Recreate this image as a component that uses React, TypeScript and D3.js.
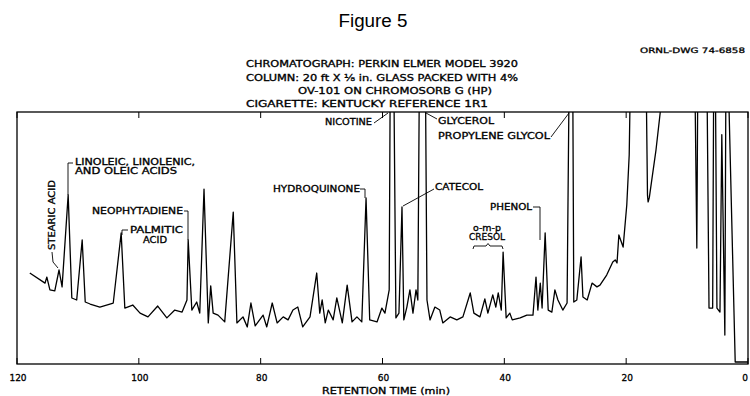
import React from 'react';
import * as d3 from 'd3';

// Retention time (min) and detector response (% of full scale, >100 runs off the chart)
const retentionTimes = [
  117.9, 115.4, 115.1, 114.6, 113.8, 113.1, 112.6, 111.6, 111.0, 110.2,
  109.3, 108.8, 108.0, 106.4, 104.2, 102.9, 102.3, 101.0, 99.8, 98.5,
  96.9, 95.4, 94.1, 92.9, 92.1, 91.9, 91.3, 90.5, 90.0, 89.3,
  88.6, 88.2, 87.8, 87.0, 85.9, 84.5, 83.9, 82.9, 82.2, 81.6,
  80.9, 79.6, 79.0, 78.1, 77.3, 76.3, 75.5, 74.7, 73.9, 73.1,
  71.9, 70.8, 70.3, 69.9, 69.4, 68.9, 68.1, 67.5, 66.6, 65.8,
  65.0, 64.2, 63.4, 62.7, 62.1, 60.9, 60.1, 59.6, 58.9, 58.7,
  58.2, 57.8, 57.3, 56.8, 56.5, 56.0, 55.5, 55.0, 54.5, 54.2,
  53.9, 53.0, 52.7, 52.2, 51.4, 50.6, 50.1, 48.9, 47.8, 46.8,
  45.6, 45.0, 44.0, 43.2, 42.7, 41.9, 41.4, 41.0, 40.5, 40.2,
  39.7, 39.1, 38.7, 37.4, 36.3, 35.3, 34.8, 34.5, 34.1, 33.8,
  33.3, 32.8, 32.2, 31.7, 31.2, 30.4, 29.7, 29.3, 28.8, 28.6,
  28.1, 27.4, 27.1, 26.4, 25.6, 24.8, 24.3, 23.2, 22.2, 21.8,
  21.5, 21.2, 20.5, 19.9, 19.5, 19.2, 16.8, 16.5, 16.4, 16.2,
  15.8, 15.1, 14.4, 14.0, 8.8, 8.4, 8.2, 6.8, 6.4, 5.8,
  5.6, 5.4, 5.1, 4.6, 4.3, 3.8, 3.6, 3.1, 2.1, 0.0,
];
const responses = [
  36.1, 32.1, 34.5, 29.4, 29.0, 37.3, 30.6, 67.1, 26.2, 25.4,
  49.2, 24.6, 23.8, 22.6, 24.2, 52.0, 22.2, 23.4, 20.2, 18.7,
  23.0, 18.3, 21.4, 20.6, 25.4, 49.2, 21.4, 24.6, 20.2, 69.4,
  16.3, 31.0, 20.2, 19.4, 16.7, 60.3, 16.3, 18.7, 14.7, 24.2,
  15.1, 19.4, 14.7, 24.2, 16.3, 18.7, 17.5, 21.4, 22.6, 14.7,
  18.7, 36.1, 20.2, 25.4, 16.3, 21.4, 17.5, 26.2, 16.3, 31.3,
  16.7, 18.7, 16.7, 65.9, 17.5, 16.7, 22.2, 20.2, 29.4, 130,
  130, 18.3, 20.2, 62.3, 17.5, 22.6, 29.4, 20.2, 29.4, 25.4,
  130, 130, 25.4, 17.5, 22.6, 21.4, 16.3, 18.7, 17.5, 18.7,
  28.2, 20.2, 18.7, 25.8, 20.2, 27.4, 22.6, 28.2, 21.4, 44.4,
  18.3, 20.2, 17.5, 18.3, 19.4, 19.4, 34.5, 21.4, 32.1, 22.2,
  52.0, 21.4, 20.6, 29.4, 25.4, 21.4, 24.2, 130, 130, 24.6,
  25.4, 42.5, 26.6, 25.4, 32.1, 30.6, 31.3, 35.3, 40.5, 41.3,
  40.1, 51.2, 46.4, 63.1, 83.0, 130, 130, 67.0, 64.3, 66.0,
  73.0, 85.0, 100, 130, 130, 46.0, 130, 130, 22.2, 22.2,
  130, 130, 22.2, 20.6, 91.0, 11.5, 130, 100, 0.8, 0.8,
];
const tickValues = [120, 100, 80, 60, 40, 20, 0];

const headerLines = [
  'CHROMATOGRAPH: PERKIN ELMER MODEL 3920',
  'COLUMN: 20 ft X \u215B in. GLASS PACKED WITH 4%',
  'OV-101 ON CHROMOSORB G (HP)',
  'CIGARETTE: KENTUCKY REFERENCE 1R1',
];

const W = 750;
const H = 396;
const plot = { left: 17, right: 748, top: 112, bottom: 364 };
const LETTER = "'DejaVu Sans', 'Liberation Sans', sans-serif";

const App: React.FC = () => {
  const x = d3.scaleLinear().domain([120, 0]).range([plot.left, plot.right]);
  const y = d3.scaleLinear().domain([0, 100]).range([plot.bottom, plot.top]);

  const points = retentionTimes.map((t, i) => [t, responses[i]] as [number, number]);
  const trace = d3.line<[number, number]>()
    .x(d => x(d[0]))
    .y(d => y(d[1]))(points) ?? '';

  // stencil-like lettering: fixed width, slightly thickened
  const lbl = (s: string, px: number, py: number, len: number, opts: any = {}) => (
    <text x={px} y={py} textLength={len} lengthAdjust="spacingAndGlyphs"
      fontFamily={LETTER} fontSize={opts.size ?? 8.5} textAnchor={opts.anchor ?? 'start'}
      stroke="#000" strokeWidth={0.3} transform={opts.transform}>{s}</text>
  );

  return (
    <svg width={W} height={H} style={{ position: 'absolute', left: 0, top: 0, background: '#fff' }}>
      <defs>
        <clipPath id="plotClip">
          <rect x={plot.left} y={plot.top} width={plot.right - plot.left} height={plot.bottom - plot.top} />
        </clipPath>
      </defs>
      <rect width={W} height={H} fill="#fff" />

      <text x={373} y={27} textAnchor="middle" fontFamily="'Liberation Sans Narrow', 'Liberation Sans', Arial, sans-serif"
        fontSize={18} textLength={69} lengthAdjust="spacingAndGlyphs">Figure 5</text>

      {lbl('ORNL-DWG 74-6858', 640, 53, 105, { size: 7.5 })}

      {lbl(headerLines[0], 246, 67, 272)}
      {lbl(headerLines[1], 246, 81, 272)}
      {lbl(headerLines[2], 298, 94, 194)}
      {lbl(headerLines[3], 246, 107, 242)}

      {/* frame */}
      <rect x={plot.left} y={plot.top} width={plot.right - plot.left} height={plot.bottom - plot.top}
        fill="none" stroke="#000" strokeWidth={1.3} />

      {tickValues.map(t => (
        <g key={t}>
          <line x1={x(t)} x2={x(t)} y1={plot.bottom} y2={plot.bottom - 6} stroke="#000" strokeWidth={1} />
          <line x1={x(t)} x2={x(t)} y1={plot.top} y2={plot.top + 6} stroke="#000" strokeWidth={1} />
          <text x={t === 0 ? x(t) - 3 : x(t) + 1} y={381} textAnchor="middle" fontFamily={LETTER} fontSize={9}
            stroke="#000" strokeWidth={0.3}>{t}</text>
        </g>
      ))}
      {lbl('RETENTION TIME (min)', 386, 394, 128, { anchor: 'middle' })}

      <path d={trace} fill="none" stroke="#000" strokeWidth={1.3} strokeLinejoin="round" clipPath="url(#plotClip)" />

      {/* peak label leaders */}
      <g stroke="#000" strokeWidth={0.9} fill="none">
        <polyline points="52,252 53,262 58,268" />
        <polyline points="73,163 68,163 68,195" />
        <polyline points="184,211 188,211 188,240" />
        <polyline points="128,230 122,230 122,235" />
        <polyline points="360,189 365,189 365,198" />
        <line x1={374} y1={123} x2={388} y2={113} />
        <line x1={437} y1={119} x2={426} y2={113} />
        <line x1={551} y1={137} x2={569} y2={113} />
        <line x1={434} y1={189} x2={403} y2={206} />
        <polyline points="533,207 540,207 540,240" />
        <path d="M473,249 L474,246 L486,246 L488,243.5 L490,246 L502,246 L503,249" />
      </g>

      {lbl('STEARIC ACID', 55, 215, 70, { anchor: 'middle', transform: 'rotate(-90 55 215)' })}
      {lbl('LINOLEIC, LINOLENIC,', 75, 165, 120)}
      {lbl('AND OLEIC ACIDS', 75, 174, 102)}
      {lbl('NEOPHYTADIENE', 183, 214, 91, { anchor: 'end' })}
      {lbl('PALMITIC', 130, 233, 53)}
      {lbl('ACID', 143, 243, 24)}
      {lbl('HYDROQUINONE', 273, 192, 87)}
      {lbl('NICOTINE', 325, 125, 47)}
      {lbl('GLYCEROL', 438, 124, 56)}
      {lbl('PROPYLENE GLYCOL', 438, 139, 112)}
      {lbl('CATECOL', 435, 190, 48)}
      {lbl('PHENOL', 490, 210, 42)}
      {lbl('o-m-p', 473, 231, 28, { size: 8 })}
      {lbl('CRESOL', 469, 240, 36, { size: 9 })}
    </svg>
  );
};

export default App;
